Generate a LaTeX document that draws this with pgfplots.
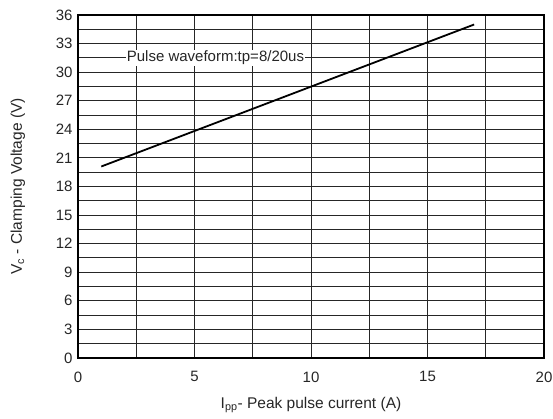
\documentclass[border=0pt]{standalone}
\usepackage{fontspec}
\setmainfont{Liberation Sans}
\usepackage{pgfplots}
\pgfplotsset{compat=1.18}
\begin{document}
\begin{tikzpicture}
\useasboundingbox (-78pt,-61pt) rectangle (475pt,358pt);
\begin{axis}[
  scale only axis,
  width=466pt, height=343pt,
  xmin=0, xmax=20, ymin=0, ymax=36,
  xtick={0,5,...,20},
  minor xtick={2.5,7.5,12.5,17.5},
  ytick={0,3,...,36},
  minor ytick={1.5,4.5,...,34.5},
  grid=both,
  grid style={black!85, line width=1pt},
  minor grid style={black!85, line width=1pt},
  major tick length=0pt, minor tick length=0pt,
  axis line style={black, line width=1.8pt},
  tick label style={font=\fontsize{15}{17}\selectfont, text=black!85},
  /pgf/number format/assume math mode=true,
  xticklabel style={yshift=-10pt},
  yticklabel style={xshift=-2pt},
  xlabel={I\textsubscript{pp}- Peak pulse current (A)},
  ylabel={V\textsubscript{c} - Clamping Voltage (V)},
  label style={font=\fontsize{15.5}{17}\selectfont, text=black!85},
  xlabel style={at={(axis description cs:0.5,-0.137)}, anchor=center},
  ylabel style={at={(axis description cs:-0.129,0.5)}, anchor=center},
  clip=false,
]
\addplot[black, line width=1.8pt] coordinates {(1,20.1) (17,35)};
\node[fill=white, inner sep=1pt, font=\fontsize{15}{17}\selectfont, text=black!85] at (axis cs:5.9,31.5) {Pulse waveform:tp=8/20us};
\end{axis}
\end{tikzpicture}
\end{document}
